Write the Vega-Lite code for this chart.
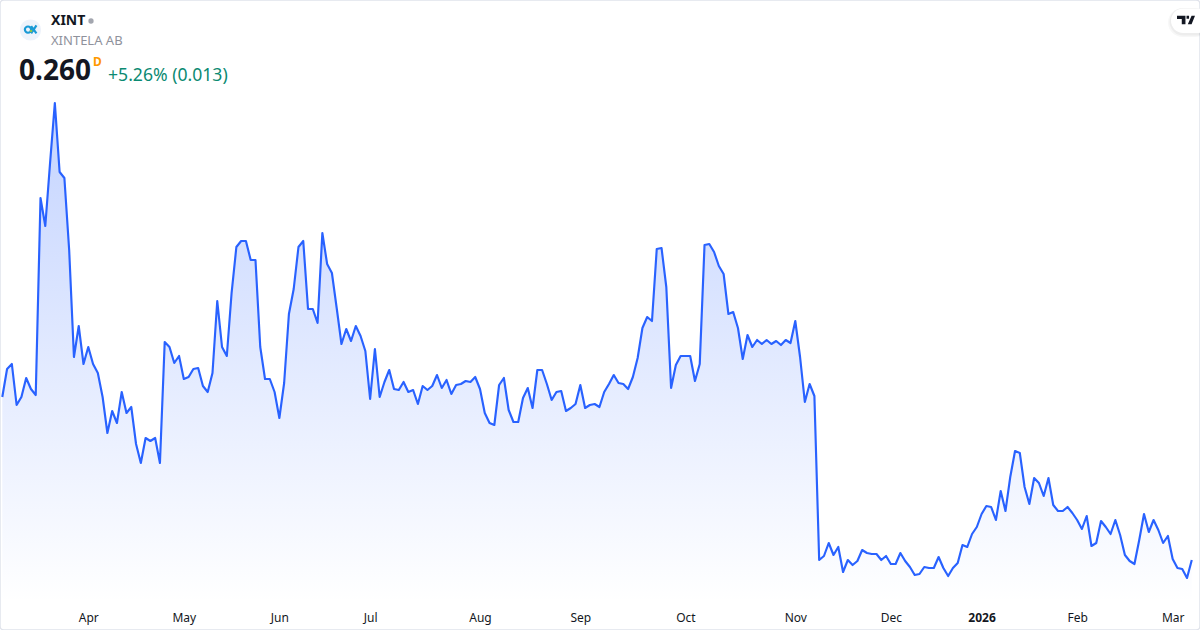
{"$schema":"https://vega.github.io/schema/vega-lite/v6.json","width":1200,"height":630,"padding":0,"autosize":{"type":"none"},"background":"#ffffff","view":{"stroke":"#e0e3eb","strokeWidth":1.5,"cornerRadius":4,"fill":null},
"datasets":{"prices":[
{"session":0,"price":0.3741},{"session":1,"price":0.3937},{"session":2,"price":0.3972},{"session":3,"price":0.3685},{"session":4,"price":0.3741},{"session":5,"price":0.3874},{"session":6,"price":0.3797},{"session":7,"price":0.3755},{"session":8,"price":0.5134},{"session":9,"price":0.4938},
{"session":10,"price":0.5379},{"session":11,"price":0.5799},{"session":12,"price":0.5316},{"session":13,"price":0.5274},{"session":14,"price":0.477},{"session":15,"price":0.4021},{"session":16,"price":0.4238},{"session":17,"price":0.3972},{"session":18,"price":0.4091},{"session":19,"price":0.3972},
{"session":20,"price":0.3909},{"session":21,"price":0.3741},{"session":22,"price":0.3489},{"session":23,"price":0.3643},{"session":24,"price":0.3559},{"session":25,"price":0.3776},{"session":26,"price":0.3629},{"session":27,"price":0.3671},{"session":28,"price":0.3412},{"session":29,"price":0.3279},
{"session":30,"price":0.3454},{"session":31,"price":0.3433},{"session":32,"price":0.3454},{"session":33,"price":0.3279},{"session":34,"price":0.4126},{"session":35,"price":0.4091},{"session":36,"price":0.3979},{"session":37,"price":0.4028},{"session":38,"price":0.3867},{"session":39,"price":0.3881},
{"session":40,"price":0.3937},{"session":41,"price":0.3944},{"session":42,"price":0.3818},{"session":43,"price":0.3776},{"session":44,"price":0.3909},{"session":45,"price":0.4413},{"session":46,"price":0.4091},{"session":47,"price":0.4028},{"session":48,"price":0.4469},{"session":49,"price":0.4791},
{"session":50,"price":0.4833},{"session":51,"price":0.4833},{"session":52,"price":0.47},{"session":53,"price":0.47},{"session":54,"price":0.4091},{"session":55,"price":0.3867},{"session":56,"price":0.3867},{"session":57,"price":0.3776},{"session":58,"price":0.3594},{"session":59,"price":0.3839},
{"session":60,"price":0.4322},{"session":61,"price":0.4497},{"session":62,"price":0.4791},{"session":63,"price":0.4833},{"session":64,"price":0.4357},{"session":65,"price":0.4357},{"session":66,"price":0.4259},{"session":67,"price":0.4889},{"session":68,"price":0.4672},{"session":69,"price":0.4609},
{"session":70,"price":0.4364},{"session":71,"price":0.4112},{"session":72,"price":0.4217},{"session":73,"price":0.4133},{"session":74,"price":0.4238},{"session":75,"price":0.4168},{"session":76,"price":0.4063},{"session":77,"price":0.3727},{"session":78,"price":0.4077},{"session":79,"price":0.3741},
{"session":80,"price":0.3846},{"session":81,"price":0.393},{"session":82,"price":0.3797},{"session":83,"price":0.379},{"session":84,"price":0.3846},{"session":85,"price":0.3776},{"session":86,"price":0.379},{"session":87,"price":0.3692},{"session":88,"price":0.3818},{"session":89,"price":0.379},
{"session":90,"price":0.3818},{"session":91,"price":0.3895},{"session":92,"price":0.3804},{"session":93,"price":0.386},{"session":94,"price":0.3762},{"session":95,"price":0.3825},{"session":96,"price":0.3832},{"session":97,"price":0.3853},{"session":98,"price":0.3846},{"session":99,"price":0.3881},
{"session":100,"price":0.3797},{"session":101,"price":0.3629},{"session":102,"price":0.3559},{"session":103,"price":0.3545},{"session":104,"price":0.3825},{"session":105,"price":0.3874},{"session":106,"price":0.365},{"session":107,"price":0.3566},{"session":108,"price":0.3566},{"session":109,"price":0.3734},
{"session":110,"price":0.3804},{"session":111,"price":0.3664},{"session":112,"price":0.393},{"session":113,"price":0.393},{"session":114,"price":0.3832},{"session":115,"price":0.372},{"session":116,"price":0.3776},{"session":117,"price":0.3783},{"session":118,"price":0.3643},{"session":119,"price":0.3664},
{"session":120,"price":0.3692},{"session":121,"price":0.3825},{"session":122,"price":0.3664},{"session":123,"price":0.3685},{"session":124,"price":0.3692},{"session":125,"price":0.3671},{"session":126,"price":0.3776},{"session":127,"price":0.3832},{"session":128,"price":0.3895},{"session":129,"price":0.3839},
{"session":130,"price":0.3832},{"session":131,"price":0.3797},{"session":132,"price":0.3881},{"session":133,"price":0.4014},{"session":134,"price":0.4224},{"session":135,"price":0.4301},{"session":136,"price":0.4273},{"session":137,"price":0.4777},{"session":138,"price":0.4784},{"session":139,"price":0.4511},
{"session":140,"price":0.3804},{"session":141,"price":0.3965},{"session":142,"price":0.4028},{"session":143,"price":0.4028},{"session":144,"price":0.4028},{"session":145,"price":0.3853},{"session":146,"price":0.3972},{"session":147,"price":0.4805},{"session":148,"price":0.4812},{"session":149,"price":0.4756},
{"session":150,"price":0.4658},{"session":151,"price":0.4602},{"session":152,"price":0.4322},{"session":153,"price":0.4336},{"session":154,"price":0.4224},{"session":155,"price":0.4007},{"session":156,"price":0.4175},{"session":157,"price":0.4091},{"session":158,"price":0.414},{"session":159,"price":0.4112},
{"session":160,"price":0.414},{"session":161,"price":0.4112},{"session":162,"price":0.4133},{"session":163,"price":0.4105},{"session":164,"price":0.414},{"session":165,"price":0.4119},{"session":166,"price":0.4273},{"session":167,"price":0.4021},{"session":168,"price":0.3706},{"session":169,"price":0.3832},
{"session":170,"price":0.3748},{"session":171,"price":0.26},{"session":172,"price":0.2628},{"session":173,"price":0.2719},{"session":174,"price":0.2635},{"session":175,"price":0.2691},{"session":176,"price":0.2516},{"session":177,"price":0.26},{"session":178,"price":0.2565},{"session":179,"price":0.2593},
{"session":180,"price":0.267},{"session":181,"price":0.2649},{"session":182,"price":0.2642},{"session":183,"price":0.2642},{"session":184,"price":0.26},{"session":185,"price":0.2628},{"session":186,"price":0.2572},{"session":187,"price":0.2572},{"session":188,"price":0.2649},{"session":189,"price":0.2593},
{"session":190,"price":0.2551},{"session":191,"price":0.2495},{"session":192,"price":0.2502},{"session":193,"price":0.2551},{"session":194,"price":0.2544},{"session":195,"price":0.2544},{"session":196,"price":0.2621},{"session":197,"price":0.2544},{"session":198,"price":0.2488},{"session":199,"price":0.2544},
{"session":200,"price":0.2579},{"session":201,"price":0.2705},{"session":202,"price":0.2691},{"session":203,"price":0.2782},{"session":204,"price":0.2831},{"session":205,"price":0.2922},{"session":206,"price":0.2978},{"session":207,"price":0.2971},{"session":208,"price":0.288},{"session":209,"price":0.3083},
{"session":210,"price":0.2943},{"session":211,"price":0.3181},{"session":212,"price":0.3363},{"session":213,"price":0.3349},{"session":214,"price":0.3111},{"session":215,"price":0.2992},{"session":216,"price":0.3174},{"session":217,"price":0.3139},{"session":218,"price":0.3048},{"session":219,"price":0.3174},
{"session":220,"price":0.2985},{"session":221,"price":0.2943},{"session":222,"price":0.2943},{"session":223,"price":0.2971},{"session":224,"price":0.2929},{"session":225,"price":0.288},{"session":226,"price":0.2817},{"session":227,"price":0.2908},{"session":228,"price":0.2698},{"session":229,"price":0.2719},
{"session":230,"price":0.2873},{"session":231,"price":0.2831},{"session":232,"price":0.2782},{"session":233,"price":0.288},{"session":234,"price":0.2775},{"session":235,"price":0.2635},{"session":236,"price":0.2593},{"session":237,"price":0.2572},{"session":238,"price":0.274},{"session":239,"price":0.2922},
{"session":240,"price":0.2796},{"session":241,"price":0.288},{"session":242,"price":0.281},{"session":243,"price":0.2719},{"session":244,"price":0.2768},{"session":245,"price":0.2607},{"session":246,"price":0.2544},{"session":247,"price":0.2537},{"session":248,"price":0.2474},{"session":249,"price":0.26}
]},
"layer":[
{"data":{"name":"prices"},"mark":{"type":"area","interpolate":"linear","color":{"gradient":"linear","x1":0,"y1":0,"x2":0,"y2":1,"stops":[{"offset":0,"color":"rgba(41,98,255,0.28)"},{"offset":1,"color":"rgba(41,98,255,0)"}]}},
"encoding":{"x":{"field":"session","type":"quantitative","scale":{"domain":[-0.48,250.72],"nice":false,"zero":false},
"axis":{"orient":"bottom","offset":-27,"title":null,"domain":false,"ticks":false,"grid":false,"values":[18,38,58,77,100,121,143,166,186,205,225,245],"labelExpr":"{18:'Apr',38:'May',58:'Jun',77:'Jul',100:'Aug',121:'Sep',143:'Oct',166:'Nov',186:'Dec',205:'2026',225:'Feb',245:'Mar'}[datum.value]","labelFont":"Noto Sans","labelFontSize":12,"labelColor":"#131722","labelPadding":9.5,"labelFlush":false,"labelOverlap":false,"labelFontWeight":{"condition":{"test":"datum.value == 205","value":"bold"},"value":"normal"}}},
"y":{"field":"price","type":"quantitative","scale":{"domain":[0.211,0.652],"nice":false,"zero":false},"axis":null},"y2":{"datum":0.2299}}},
{"data":{"name":"prices"},"mark":{"type":"line","interpolate":"linear","stroke":"#2962ff","strokeWidth":2.15,"strokeJoin":"round"},
"encoding":{"x":{"field":"session","type":"quantitative"},"y":{"field":"price","type":"quantitative"}}},
{"data":{"values":[{"label":"XINT"}]},"mark":{"type":"text","x":51,"y":21,"align":"left","baseline":"middle","font":"Noto Sans","fontWeight":"bold","fontSize":14,"color":"#131722"},"encoding":{"text":{"field":"label"}}},
{"data":{"values":[{"label":"XINTELA AB"}]},"mark":{"type":"text","x":51,"y":40.5,"align":"left","baseline":"middle","font":"Noto Sans","fontSize":13,"color":"#8f929c"},"encoding":{"text":{"field":"label"}}},
{"data":{"values":[{"label":"0.260"}]},"mark":{"type":"text","x":19,"y":72,"align":"left","baseline":"middle","font":"Noto Sans","fontWeight":"bold","fontSize":28,"color":"#131722"},"encoding":{"text":{"field":"label"}}},
{"data":{"values":[{"label":"D"}]},"mark":{"type":"text","x":93,"y":61.5,"align":"left","baseline":"middle","font":"Noto Sans","fontWeight":"bold","fontSize":12,"color":"#ff9800"},"encoding":{"text":{"field":"label"}}},
{"data":{"values":[{"label":"+5.26% (0.013)"}]},"mark":{"type":"text","x":108,"y":75.5,"align":"left","baseline":"middle","font":"Noto Sans","fontSize":17.6,"color":"#0b8a72"},"encoding":{"text":{"field":"label"}}},
{"data":{"values":[{"item":"status"}]},"mark":{"type":"point","x":91,"y":21,"filled":true,"shape":"circle","size":28,"color":"#a3a6af","opacity":1},"encoding":{}},
{"data":{"values":[{"item":"logo"}]},"mark":{"type":"point","x":30.5,"y":30,"filled":true,"shape":"circle","size":450,"color":"#eef3fb","opacity":1},"encoding":{}},
{"data":{"values":[{"item":"logo glyph"}]},"mark":{"type":"point","x":30.6,"y":29.3,"filled":false,"opacity":1,"stroke":"#1a9ad6","strokeWidth":2.2,"size":169,"shape":"M.08 .05A.48 .48 0 1 1 -.88 .05A.48 .48 0 1 1 .08 .05ZM.9 -.6L.08 .62M.08 -.5L.9 .62"},"encoding":{}},
{"data":{"values":[{"item":"logo dot"}]},"mark":{"type":"point","x":31,"y":31,"filled":true,"shape":"circle","size":7,"color":"#8bc34a","opacity":1},"encoding":{}},
{"data":{"values":[{"item":"badge shadow"}]},"mark":{"type":"rect","x":1168,"x2":1210,"y":8,"y2":37,"cornerRadius":15,"color":"#000000","opacity":0.03},"encoding":{}},
{"data":{"values":[{"item":"badge shadow"}]},"mark":{"type":"rect","x":1169.5,"x2":1210,"y":8,"y2":35.5,"cornerRadius":14,"color":"#000000","opacity":0.04},"encoding":{}},
{"data":{"values":[{"item":"badge"}]},"mark":{"type":"rect","x":1171,"x2":1210,"y":8.5,"y2":33,"cornerRadius":12.5,"color":"#ffffff"},"encoding":{}},
{"data":{"values":[{"item":"badge logo"}]},"mark":{"type":"point","x":1186,"y":20,"filled":true,"opacity":1,"color":"#131722","size":324,"shape":"M-1 -.47H-.06V.47H-.47V-.1H-1ZM.06 -.47H.34V-.14H.06ZM.62 -.47H1L.62 .47H.2Z"},"encoding":{}}
]}
